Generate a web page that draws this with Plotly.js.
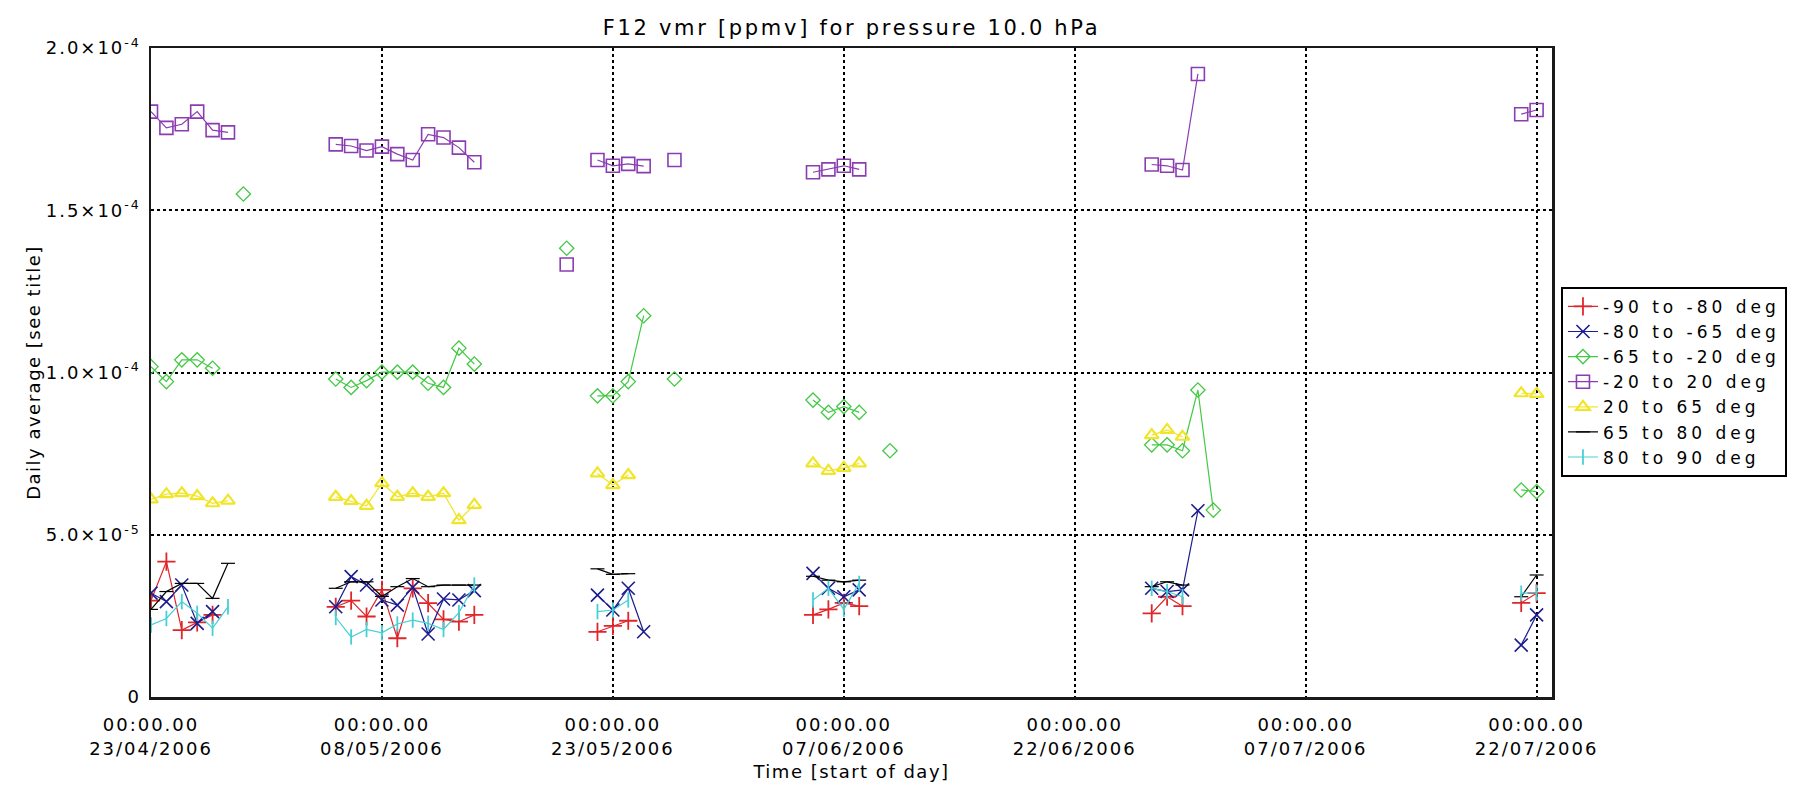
<!DOCTYPE html>
<html>
<head>
<meta charset="utf-8">
<script src="https://cdn.plot.ly/plotly-3.0.1.min.js"></script>
<style>
  html, body { margin: 0; padding: 0; background: #ffffff; }
  #chart { width: 1810px; height: 798px; }
  .gtitle { letter-spacing: 2.7px; }
  .xtick text { letter-spacing: 2px; }
  .ytick text { letter-spacing: 2px; }
  .legendtext { letter-spacing: 4px; }
  .xtitle, .ytitle { letter-spacing: 1.5px; }
</style>
</head>
<body>
<div id="chart"></div>
<script>
// ---------------- data (daily averages, ppmv) ----------------
const seriesNames = ['-90 to -80 deg', '-80 to -65 deg', '-65 to -20 deg', '-20 to 20 deg',
                     '20 to 65 deg', '65 to 80 deg', '80 to 90 deg'];

const datesS90 = ['2006-04-23','2006-04-24','2006-04-25','2006-04-26','2006-04-27',
  '2006-05-05','2006-05-06','2006-05-07','2006-05-08','2006-05-09','2006-05-10','2006-05-11','2006-05-12','2006-05-13','2006-05-14',
  '2006-05-22','2006-05-23','2006-05-24',
  '2006-06-05','2006-06-06','2006-06-07','2006-06-08',
  '2006-06-27','2006-06-28','2006-06-29',
  '2006-07-21','2006-07-22'];
const valsS90 = [2.97e-5, 4.17e-5, 2.06e-5, 2.30e-5, 2.53e-5,
  2.78e-5, 2.97e-5, 2.48e-5, 3.30e-5, 1.81e-5, 3.35e-5, 2.89e-5, 2.39e-5, 2.32e-5, 2.53e-5,
  2.01e-5, 2.19e-5, 2.35e-5,
  2.53e-5, 2.70e-5, 2.90e-5, 2.80e-5,
  2.58e-5, 3.09e-5, 2.80e-5,
  2.90e-5, 3.20e-5];

const datesS80 = ['2006-04-23','2006-04-24','2006-04-25','2006-04-26','2006-04-27',
  '2006-05-05','2006-05-06','2006-05-07','2006-05-08','2006-05-09','2006-05-10','2006-05-11','2006-05-12','2006-05-13','2006-05-14',
  '2006-05-22','2006-05-23','2006-05-24','2006-05-25',
  '2006-06-05','2006-06-06','2006-06-07','2006-06-08',
  '2006-06-27','2006-06-28','2006-06-29','2006-06-30',
  '2006-07-21','2006-07-22'];
const valsS80 = [3.20e-5, 2.94e-5, 3.45e-5, 2.27e-5, 2.63e-5,
  2.78e-5, 3.71e-5, 3.45e-5, 2.99e-5, 2.83e-5, 3.38e-5, 1.94e-5, 3.02e-5, 2.99e-5, 3.28e-5,
  3.14e-5, 2.68e-5, 3.35e-5, 2.01e-5,
  3.81e-5, 3.35e-5, 3.09e-5, 3.30e-5,
  3.35e-5, 3.25e-5, 3.30e-5, 5.74e-5,
  1.60e-5, 2.53e-5];

const datesS65 = ['2006-04-23','2006-04-24','2006-04-25','2006-04-26','2006-04-27',
  '2006-04-29',
  '2006-05-05','2006-05-06','2006-05-07','2006-05-08','2006-05-09','2006-05-10','2006-05-11','2006-05-12','2006-05-13','2006-05-14',
  '2006-05-20',
  '2006-05-22','2006-05-23','2006-05-24','2006-05-25',
  '2006-05-27',
  '2006-06-05','2006-06-06','2006-06-07','2006-06-08',
  '2006-06-10',
  '2006-06-27','2006-06-28','2006-06-29','2006-06-30','2006-07-01',
  '2006-07-21','2006-07-22'];
const valsS65 = [1.018e-4, 0.972e-4, 1.039e-4, 1.039e-4, 1.013e-4,
  1.550e-4,
  0.980e-4, 0.954e-4, 0.975e-4, 1.001e-4, 1.001e-4, 1.001e-4, 0.967e-4, 0.954e-4, 1.075e-4, 1.026e-4,
  1.383e-4,
  0.928e-4, 0.928e-4, 0.972e-4, 1.175e-4,
  0.980e-4,
  0.915e-4, 0.877e-4, 0.895e-4, 0.877e-4,
  0.759e-4,
  0.777e-4, 0.777e-4, 0.759e-4, 0.946e-4, 0.576e-4,
  0.638e-4, 0.633e-4];

const datesS20 = ['2006-04-23','2006-04-24','2006-04-25','2006-04-26','2006-04-27','2006-04-28',
  '2006-05-05','2006-05-06','2006-05-07','2006-05-08','2006-05-09','2006-05-10','2006-05-11','2006-05-12','2006-05-13','2006-05-14',
  '2006-05-20',
  '2006-05-22','2006-05-23','2006-05-24','2006-05-25',
  '2006-05-27',
  '2006-06-05','2006-06-06','2006-06-07','2006-06-08',
  '2006-06-27','2006-06-28','2006-06-29','2006-06-30',
  '2006-07-21','2006-07-22'];
const valsS20 = [1.804e-4, 1.754e-4, 1.765e-4, 1.804e-4, 1.747e-4, 1.740e-4,
  1.703e-4, 1.698e-4, 1.684e-4, 1.696e-4, 1.673e-4, 1.655e-4, 1.734e-4, 1.724e-4, 1.693e-4, 1.648e-4,
  1.333e-4,
  1.655e-4, 1.637e-4, 1.643e-4, 1.636e-4,
  1.655e-4,
  1.617e-4, 1.626e-4, 1.637e-4, 1.626e-4,
  1.641e-4, 1.637e-4, 1.624e-4, 1.920e-4,
  1.796e-4, 1.809e-4];

const datesN20 = ['2006-04-23','2006-04-24','2006-04-25','2006-04-26','2006-04-27','2006-04-28',
  '2006-05-05','2006-05-06','2006-05-07','2006-05-08','2006-05-09','2006-05-10','2006-05-11','2006-05-12','2006-05-13','2006-05-14',
  '2006-05-22','2006-05-23','2006-05-24',
  '2006-06-05','2006-06-06','2006-06-07','2006-06-08',
  '2006-06-27','2006-06-28','2006-06-29',
  '2006-07-21','2006-07-22'];
const valsN20 = [6.09e-5, 6.25e-5, 6.28e-5, 6.19e-5, 5.97e-5, 6.05e-5,
  6.17e-5, 6.04e-5, 5.89e-5, 6.59e-5, 6.17e-5, 6.28e-5, 6.17e-5, 6.28e-5, 5.45e-5, 5.92e-5,
  6.89e-5, 6.53e-5, 6.84e-5,
  7.20e-5, 6.97e-5, 7.06e-5, 7.20e-5,
  8.07e-5, 8.23e-5, 8.02e-5,
  9.36e-5, 9.34e-5];

const datesN65 = ['2006-04-23','2006-04-24','2006-04-25','2006-04-26','2006-04-27','2006-04-28',
  '2006-05-05','2006-05-06','2006-05-07','2006-05-08','2006-05-09','2006-05-10','2006-05-11','2006-05-12','2006-05-13','2006-05-14',
  '2006-05-22','2006-05-23','2006-05-24',
  '2006-06-05','2006-06-06','2006-06-07','2006-06-08',
  '2006-06-27','2006-06-28','2006-06-29',
  '2006-07-21','2006-07-22'];
const valsN65 = [2.70e-5, 3.25e-5, 3.50e-5, 3.50e-5, 3.04e-5, 4.12e-5,
  3.35e-5, 3.55e-5, 3.55e-5, 3.10e-5, 3.40e-5, 3.65e-5, 3.40e-5, 3.45e-5, 3.45e-5, 3.45e-5,
  3.95e-5, 3.78e-5, 3.80e-5,
  3.72e-5, 3.60e-5, 3.55e-5, 3.60e-5,
  3.40e-5, 3.55e-5, 3.45e-5,
  3.09e-5, 3.76e-5];

const datesN80 = ['2006-04-23','2006-04-24','2006-04-25','2006-04-26','2006-04-27','2006-04-28',
  '2006-05-05','2006-05-06','2006-05-07','2006-05-08','2006-05-09','2006-05-10','2006-05-11','2006-05-12','2006-05-13','2006-05-14',
  '2006-05-22','2006-05-23','2006-05-24',
  '2006-06-05','2006-06-06','2006-06-07','2006-06-08',
  '2006-06-27','2006-06-28','2006-06-29',
  '2006-07-21','2006-07-22'];
const valsN80 = [2.22e-5, 2.42e-5, 2.94e-5, 2.58e-5, 2.12e-5, 2.78e-5,
  2.45e-5, 1.85e-5, 2.08e-5, 1.98e-5, 2.25e-5, 2.37e-5, 2.27e-5, 2.08e-5, 2.60e-5, 3.45e-5,
  2.63e-5, 2.68e-5, 2.99e-5,
  2.99e-5, 3.35e-5, 2.70e-5, 3.50e-5,
  3.35e-5, 3.25e-5, 3.09e-5,
  3.20e-5, 3.21e-5];

const xTickDates = ['2006-04-23','2006-05-08','2006-05-23','2006-06-07','2006-06-22','2006-07-07','2006-07-22'];
const xTickLabels = ['00:00.00<br>23/04/2006','00:00.00<br>08/05/2006','00:00.00<br>23/05/2006',
  '00:00.00<br>07/06/2006','00:00.00<br>22/06/2006','00:00.00<br>07/07/2006','00:00.00<br>22/07/2006'];
const yTickVals = [0, 5e-5, 1e-4, 1.5e-4, 2e-4];
const yTickLabels = ['0', '5.0×10<sup>-5</sup>', '1.0×10<sup>-4</sup>', '1.5×10<sup>-4</sup>', '2.0×10<sup>-4</sup>'];

// ---------------- helpers ----------------
// break the line where consecutive days are missing
function withGaps(dates, vals) {
  const xs = [], ys = [];
  for (let i = 0; i < dates.length; i++) {
    if (i > 0) {
      const d = (Date.parse(dates[i]) - Date.parse(dates[i - 1])) / 86400000;
      if (d > 1.5) { xs.push(dates[i - 1]); ys.push(null); }
    }
    xs.push(dates[i]); ys.push(vals[i]);
  }
  return { x: xs, y: ys };
}

const styles = [
  { color: '#e0262b', symbol: 'cross-thin-open', size: 13, mw: 1.8 },
  { color: '#1c1c8e', symbol: 'x-thin-open', size: 13, mw: 1.6 },
  { color: '#44c845', symbol: 'diamond-open', size: 11, mw: 1.3 },
  { color: '#8a3db2', symbol: 'square-open', size: 13, mw: 1.6 },
  { color: '#f1e52a', symbol: 'triangle-up-open', size: 12, mw: 2.2 },
  { color: '#000000', symbol: 'line-ew-open', size: 10, mw: 1.2 },
  { color: '#46d0d6', symbol: 'line-ns-open', size: 11, mw: 1.8 }
];
const dataSets = [
  [datesS90, valsS90], [datesS80, valsS80], [datesS65, valsS65], [datesS20, valsS20],
  [datesN20, valsN20], [datesN65, valsN65], [datesN80, valsN80]
];

const traces = dataSets.map((ds, i) => {
  const g = withGaps(ds[0], ds[1]);
  const st = styles[i];
  return {
    type: 'scatter', mode: 'lines+markers', name: seriesNames[i],
    x: g.x, y: g.y, connectgaps: false,
    line: { color: st.color, width: 1.2 },
    marker: { symbol: st.symbol, size: st.size, color: st.color, line: { color: st.color, width: st.mw } }
  };
});

const font = 'DejaVu Sans, Arial, sans-serif';
const layout = {
  width: 1810, height: 798,
  paper_bgcolor: '#ffffff', plot_bgcolor: '#ffffff',
  margin: { l: 151, r: 258, t: 48, b: 101 },
  font: { family: font, size: 18, color: '#000000' },
  title: { text: 'F12 vmr [ppmv] for pressure 10.0 hPa', font: { family: font, size: 21, color: '#000' },
           x: 0.5, xref: 'paper', xanchor: 'center', y: 1 - 28 / 798, yref: 'container', yanchor: 'middle' },
  xaxis: {
    type: 'date', range: ['2006-04-23', '2006-07-23'],
    tickmode: 'array', tickvals: xTickDates, ticktext: xTickLabels,
    ticks: '', ticklabelstandoff: 10,
    showgrid: true, gridcolor: '#000000', gridwidth: 2, griddash: 'dot',
    showline: true, linecolor: '#1a1a1a', linewidth: 2.5, mirror: true,
    zeroline: false, tickfont: { family: font, size: 18 },
    title: { text: 'Time [start of day]', font: { family: font, size: 18 }, standoff: 8 }
  },
  yaxis: {
    range: [0, 2e-4],
    tickmode: 'array', tickvals: yTickVals, ticktext: yTickLabels,
    ticks: '', ticklabelstandoff: 4,
    showgrid: true, gridcolor: '#000000', gridwidth: 2, griddash: 'dot',
    showline: true, linecolor: '#1a1a1a', linewidth: 2.5, mirror: true,
    zeroline: false, tickfont: { family: font, size: 18 },
    title: { text: 'Daily average [see title]', font: { family: font, size: 18 } }
  },
  showlegend: true,
  legend: {
    x: 1.0064, xanchor: 'left', y: 0.632, yanchor: 'top',
    bordercolor: '#000000', borderwidth: 2, bgcolor: '#ffffff',
    font: { family: font, size: 17, color: '#000' },
    itemwidth: 30, tracegroupgap: 0
  }
};

Plotly.newPlot('chart', traces, layout, { staticPlot: true, displayModeBar: false });
</script>
</body>
</html>
